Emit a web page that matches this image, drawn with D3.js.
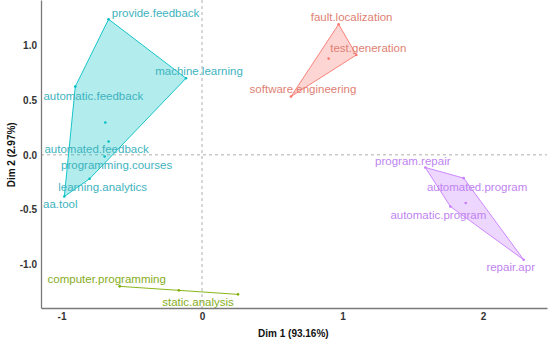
<!DOCTYPE html>
<html>
<head>
<meta charset="utf-8">
<script src="https://cdn.jsdelivr.net/npm/d3@7"></script>
<style>
  body { margin: 0; background: #fff; }
  svg { display: block; font-family: "Liberation Sans", Arial, sans-serif; }
</style>
</head>
<body>
<div id="chart"></div>
<script>
// Terms, their coordinates on the first two dimensions and the cluster they belong to
var terms = ["provide.feedback", "machine.learning", "automatic.feedback", "automated.feedback",
  "programming.courses", "learning.analytics", "aa.tool",
  "fault.localization", "test.generation", "software.engineering",
  "program.repair", "automated.program", "automatic.program", "repair.apr",
  "computer.programming", "static.analysis"];
var dim1 = [-0.665, -0.114, -0.902, -0.665, -0.693, -0.800, -0.980,
  0.972, 1.098, 0.633,
  1.589, 1.862, 1.767, 2.289,
  -0.586, 0.256];
var dim2 = [1.234, 0.697, 0.621, 0.121, -0.015, -0.218, -0.379,
  1.188, 0.909, 0.530,
  -0.115, -0.212, -0.470, -0.955,
  -1.197, -1.270];
var clusterOf = [3, 3, 3, 3, 3, 3, 3, 1, 1, 1, 4, 4, 4, 4, 2, 2];
var clusterIds = [1, 2, 3, 4];
var xTicks = [-1, 0, 1, 2];
var yTicks = [-1.0, -0.5, 0.0, 0.5, 1.0];
var xTitle = "Dim 1 (93.16%)";
var yTitle = "Dim 2 (2.97%)";

// styles / layout
var colors = {1: "#F8766D", 2: "#7CAE00", 3: "#00BFC4", 4: "#C77CFF"};
var textColors = {1: "#e07f73", 2: "#86ad1c", 3: "#3eb3be", 4: "#c084f0"};
var labelNudge = {
  "provide.feedback": [47, -6], "machine.learning": [13, -7], "automatic.feedback": [18, 9],
  "automated.feedback": [-12, 7.5], "programming.courses": [12, 9], "learning.analytics": [13, 8],
  "aa.tool": [-4, 7.5], "fault.localization": [13, -7.5], "test.generation": [12, -7.3],
  "software.engineering": [12, -7.7], "program.repair": [-12.5, -6], "automated.program": [13.4, 9],
  "automatic.program": [-12, 9], "repair.apr": [-13, 7], "computer.programming": [-13, -7],
  "static.analysis": [-40, 8]
};

var width = 550, height = 342;
var margin = {top: 0, right: 3, bottom: 34, left: 41};
var chartW = width - margin.left - margin.right;
var chartH = height - margin.top - margin.bottom;

var xScale = d3.scaleLinear().domain([-1.146, 2.455]).range([0, chartW]);
var yScale = d3.scaleLinear().domain([-1.394, 1.409]).range([chartH, 0]);

var data = terms.map(function(t, i) {
  return {term: t, x: dim1[i], y: dim2[i], cluster: clusterOf[i]};
});

var svg = d3.select("#chart").append("svg")
  .attr("width", width)
  .attr("height", height);

var g = svg.append("g")
  .attr("transform", "translate(" + margin.left + "," + margin.top + ")");

// reference lines at zero
g.append("line")
  .attr("x1", xScale(0)).attr("x2", xScale(0))
  .attr("y1", 0).attr("y2", chartH)
  .attr("stroke", "#9a9a9a").attr("stroke-width", 0.8).attr("stroke-dasharray", "3,3");
g.append("line")
  .attr("x1", 0).attr("x2", chartW)
  .attr("y1", yScale(0)).attr("y2", yScale(0))
  .attr("stroke", "#9a9a9a").attr("stroke-width", 0.8).attr("stroke-dasharray", "3,3");

// cluster hulls
clusterIds.forEach(function(c) {
  var pts = data.filter(function(d) { return d.cluster === c; })
    .map(function(d) { return [xScale(d.x), yScale(d.y)]; });
  var hull = pts.length > 2 ? d3.polygonHull(pts) : pts;
  g.append("path")
    .attr("d", d3.line()(hull) + (pts.length > 2 ? "Z" : ""))
    .attr("fill", pts.length > 2 ? colors[c] : "none")
    .attr("fill-opacity", 0.3)
    .attr("stroke", colors[c])
    .attr("stroke-width", 0.9);

  // centroid
  g.append("circle")
    .attr("cx", d3.mean(pts, function(p) { return p[0]; }))
    .attr("cy", d3.mean(pts, function(p) { return p[1]; }))
    .attr("r", 1.3)
    .attr("fill", colors[c]);
});

// points
g.selectAll(".pt").data(data).enter().append("circle")
  .attr("class", "pt")
  .attr("cx", function(d) { return xScale(d.x); })
  .attr("cy", function(d) { return yScale(d.y); })
  .attr("r", 1.3)
  .attr("fill", function(d) { return colors[d.cluster]; });

// labels
g.selectAll(".lbl").data(data).enter().append("text")
  .attr("class", "lbl")
  .attr("x", function(d) { return xScale(d.x) + labelNudge[d.term][0]; })
  .attr("y", function(d) { return yScale(d.y) + labelNudge[d.term][1]; })
  .attr("text-anchor", "middle")
  .attr("dominant-baseline", "central")
  .style("font-size", "11.5px")
  .attr("fill", function(d) { return textColors[d.cluster]; })
  .text(function(d) { return d.term; });

// axes
var xAxis = d3.axisBottom(xScale).tickValues(xTicks).tickSize(0).tickPadding(5)
  .tickFormat(function(d) { return String(d); });
var yAxis = d3.axisLeft(yScale).tickValues(yTicks).tickSize(0).tickPadding(4)
  .tickFormat(function(d) { return d.toFixed(1); });

var gx = g.append("g").attr("transform", "translate(0," + chartH + ")").call(xAxis);
var gy = g.append("g").call(yAxis);

[gx, gy].forEach(function(a) {
  a.select(".domain").attr("stroke", "#7a7a7a").attr("stroke-width", 1.3);
  a.selectAll("text")
    .style("font-size", "10px")
    .style("font-weight", "bold")
    .attr("fill", "#333");
});

svg.append("text")
  .attr("x", margin.left + xScale(0.65))
  .attr("y", 333)
  .attr("text-anchor", "middle")
  .attr("dominant-baseline", "central")
  .style("font-size", "10px")
  .style("font-weight", "bold")
  .attr("fill", "#111")
  .text(xTitle);

svg.append("text")
  .attr("transform", "translate(11," + (margin.top + yScale(0)) + ") rotate(-90)")
  .attr("text-anchor", "middle")
  .attr("dominant-baseline", "central")
  .style("font-size", "10px")
  .style("font-weight", "bold")
  .attr("fill", "#111")
  .text(yTitle);
</script>
</body>
</html>
